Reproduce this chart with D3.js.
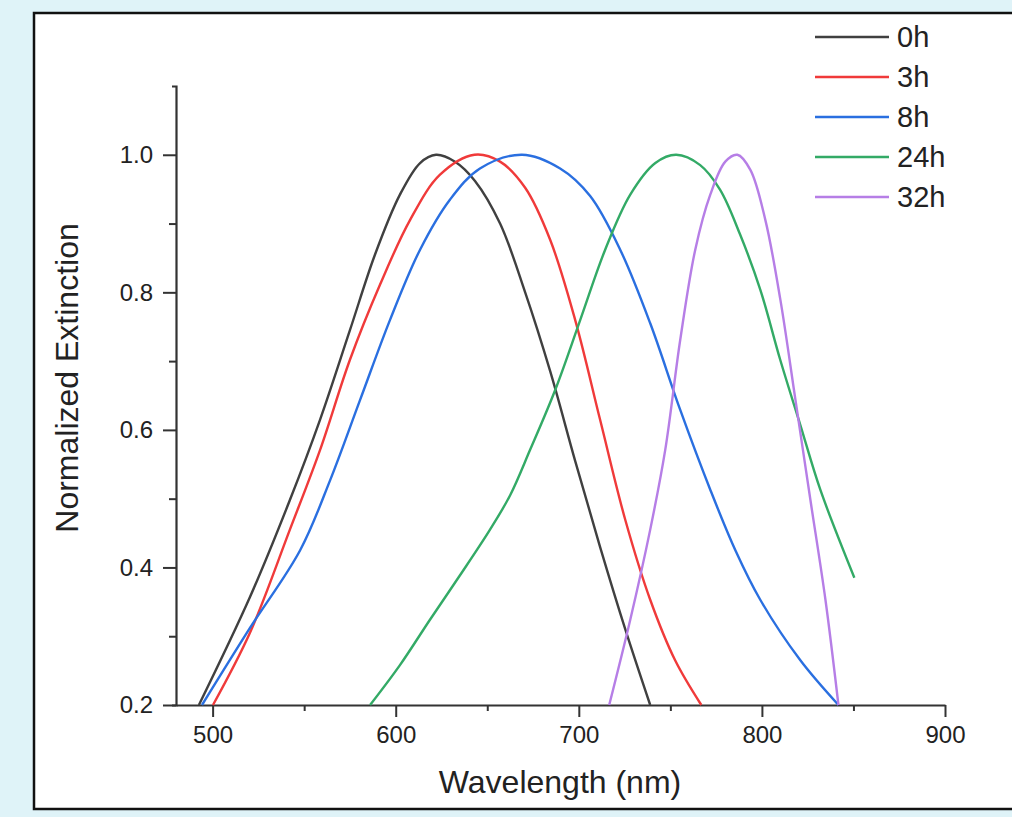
<!DOCTYPE html>
<html>
<head>
<meta charset="utf-8">
<script src="https://cdn.jsdelivr.net/npm/d3@7"></script>
<style>
  body { margin: 0; background: #dff3f8; }
  svg { display: block; }
  text { font-family: "Liberation Sans", Arial, sans-serif; fill: #222; }
</style>
</head>
<body>
<svg id="chart" width="1012" height="817"></svg>
<script>
// series names and colours
var seriesNames = ["0h", "3h", "8h", "24h", "32h"];
var seriesColors = ["#404040", "#f03a3a", "#2a6fe0", "#33aa66", "#b67ee6"];

// [wavelength nm, normalized extinction]
var data0h = [[492.5, 0.2], [520.4, 0.357], [542.2, 0.498], [558.7, 0.615], [575, 0.745], [588.7, 0.855],
  [602.3, 0.942], [613.3, 0.988], [622, 1.0], [632.4, 0.99], [643.3, 0.962], [657, 0.9], [670.7, 0.8],
  [684.4, 0.685], [698, 0.555], [711.6, 0.43], [725.4, 0.31], [739, 0.2]];
var data3h = [[500.2, 0.2], [520.4, 0.305], [542.2, 0.455], [558.7, 0.571], [575, 0.702], [591.4, 0.811],
  [607.8, 0.905], [624.2, 0.971], [643, 1.0], [657, 0.99], [670.7, 0.952], [684.4, 0.876], [698, 0.76],
  [711.6, 0.615], [725.4, 0.469], [739, 0.353], [752.6, 0.265], [766.9, 0.2]];
var data8h = [[494.2, 0.2], [520.4, 0.312], [547.8, 0.425], [564.2, 0.527], [580.6, 0.644], [596.9, 0.76],
  [613.3, 0.862], [629.7, 0.935], [646, 0.98], [669, 1.0], [689.8, 0.98], [706.2, 0.94], [722.6, 0.862],
  [739, 0.755], [755.4, 0.629], [771.8, 0.513], [785.5, 0.425], [799.1, 0.353], [821, 0.265], [841.8, 0.2]];
var data24h = [[586, 0.2], [602.3, 0.258], [618.7, 0.324], [635.2, 0.389], [651.5, 0.455], [662.5, 0.505],
  [673.4, 0.571], [687.1, 0.658], [700.8, 0.76], [714.4, 0.862], [728.1, 0.942], [741.8, 0.988],
  [753.2, 1.0], [766.3, 0.985], [777.2, 0.949], [788.1, 0.884], [799.1, 0.804], [810, 0.702],
  [821, 0.607], [831.9, 0.513], [850.5, 0.385]];
var data32h = [[716.6, 0.2], [728.1, 0.324], [739, 0.455], [747.2, 0.571], [755.4, 0.731], [763.6, 0.862],
  [771.8, 0.942], [780, 0.99], [786.6, 1.0], [793.7, 0.978], [801.9, 0.905], [810.1, 0.789],
  [818.3, 0.644], [826.5, 0.498], [834.7, 0.353], [841.8, 0.2]];
var allSeries = [data0h, data3h, data8h, data24h, data32h];

// axis ticks
var xTicks = [500, 600, 700, 800, 900];
var xMinor = [550, 650, 750, 850];
var yTicks = [0.2, 0.4, 0.6, 0.8, 1.0];
var yMinor = [0.3, 0.5, 0.7, 0.9];

var svg = d3.select("#chart");

// white panel with black frame
svg.append("rect")
  .attr("x", 34).attr("y", 13)
  .attr("width", 1000).attr("height", 796)
  .attr("fill", "#fff").attr("stroke", "#111").attr("stroke-width", 2.5);

var x = d3.scaleLinear().domain([480, 900]).range([176, 945]);
var y = d3.scaleLinear().domain([0.2, 1.1]).range([705, 86]);

var axisColor = "#333";

// minor ticks first, then major axes on top
svg.append("g")
  .attr("transform", "translate(0,705)")
  .call(d3.axisBottom(x).tickValues(xMinor).tickSize(6).tickFormat(""))
  .call(function (g) { g.select(".domain").remove(); });
svg.append("g")
  .attr("transform", "translate(176,0)")
  .call(d3.axisLeft(y).tickValues(yMinor).tickSize(7).tickFormat(""))
  .call(function (g) { g.select(".domain").remove(); });

var xAxis = svg.append("g")
  .attr("transform", "translate(0,705)")
  .call(d3.axisBottom(x).tickValues(xTicks).tickSize(12).tickSizeOuter(0).tickPadding(9));
var yAxis = svg.append("g")
  .attr("transform", "translate(176,0)")
  .call(d3.axisLeft(y).tickValues(yTicks).tickSize(13).tickSizeOuter(4).tickPadding(10)
    .tickFormat(d3.format(".1f")));

svg.selectAll(".tick line").attr("stroke", axisColor).attr("stroke-width", 2);
svg.selectAll(".domain").attr("stroke", axisColor).attr("stroke-width", 2.2);
svg.selectAll(".tick text").attr("font-size", 24).attr("fill", "#2a2a2a")
  .attr("font-family", "'Liberation Sans', Arial, sans-serif");

// curves
var line = d3.line()
  .x(function (d) { return x(d[0]); })
  .y(function (d) { return y(d[1]); })
  .curve(d3.curveCatmullRom.alpha(0.5));

svg.append("g").selectAll("path")
  .data(allSeries)
  .enter()
  .append("path")
  .attr("d", line)
  .attr("fill", "none")
  .attr("stroke", function (d, i) { return seriesColors[i]; })
  .attr("stroke-width", 2.4);

// axis titles
svg.append("text")
  .attr("x", 560).attr("y", 793)
  .attr("text-anchor", "middle")
  .attr("font-size", 32)
  .text("Wavelength (nm)");

svg.append("text")
  .attr("transform", "translate(78,378) rotate(-90)")
  .attr("text-anchor", "middle")
  .attr("font-size", 32)
  .text("Normalized Extinction");

// legend
var legend = svg.append("g").selectAll("g")
  .data(seriesNames)
  .enter()
  .append("g")
  .attr("transform", function (d, i) { return "translate(815," + (37 + i * 40) + ")"; });

legend.append("line")
  .attr("x1", 0).attr("x2", 74)
  .attr("stroke", function (d, i) { return seriesColors[i]; })
  .attr("stroke-width", 2.4);

legend.append("text")
  .attr("x", 82).attr("dy", "0.36em")
  .attr("font-size", 29)
  .text(function (d) { return d; });
</script>
</body>
</html>
